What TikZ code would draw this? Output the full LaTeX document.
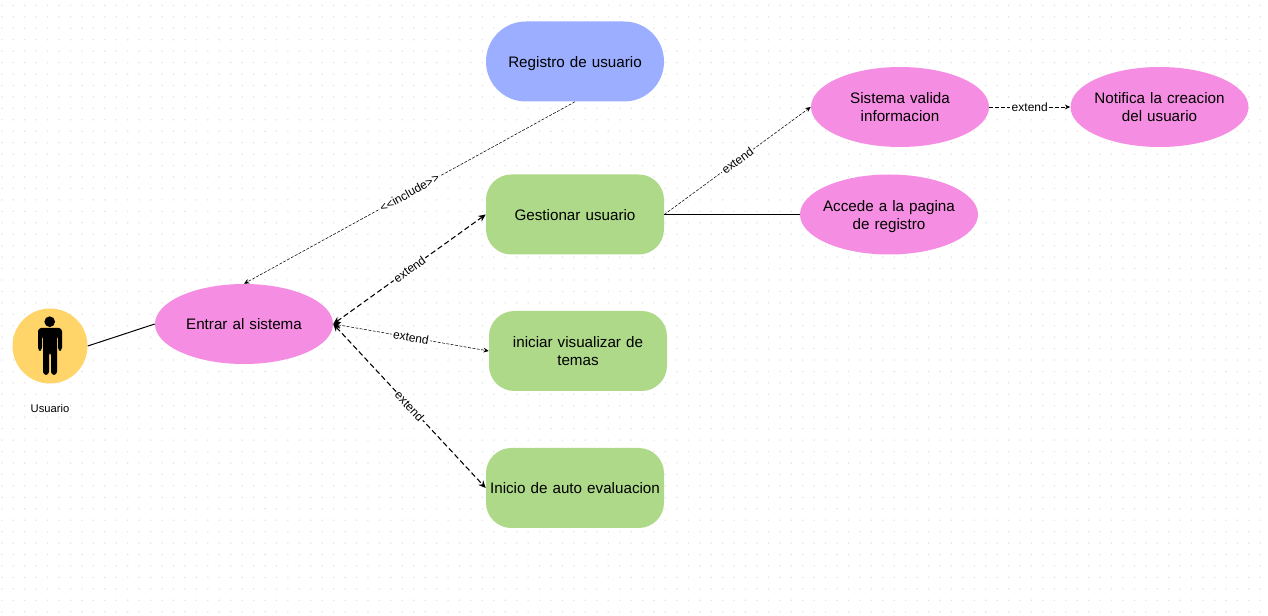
\documentclass[tikz,border=0pt]{standalone}
\usepackage{fontspec}
\setmainfont{Liberation Sans}
\usetikzlibrary{arrows.meta,shapes.geometric}
\definecolor{UseCasePink}{RGB}{245,142,226}
\definecolor{UseCaseGreen}{RGB}{174,217,137}
\definecolor{UseCaseBlue}{RGB}{155,174,255}
\definecolor{ActorYellow}{RGB}{255,212,105}
\definecolor{GridDot}{RGB}{226,226,226}
\newcommand{\casestrut}{\rule[-2.5pt]{0pt}{13.4pt}}
\begin{document}
\begin{tikzpicture}[
    x=0.75pt,y=-0.75pt,
    casetext/.style={inner sep=0pt,align=center,font=\fontsize{11.4}{13.5}\selectfont,
                     execute at begin node=\casestrut,execute at end node=\casestrut},
    casepink/.style={casetext,ellipse,fill=UseCasePink,minimum width=133.5pt,minimum height=60pt,
                     inner sep=-8pt,text width=104pt},
    casegreen/.style={casetext,rectangle,fill=UseCaseGreen,rounded corners=19pt,minimum width=133.5pt,
                      minimum height=60pt,text width=131pt},
    caseblue/.style={casegreen,fill=UseCaseBlue,rounded corners=29.9pt},
    lbl/.style={fill=white,inner sep=1pt,font=\fontsize{9}{10}\selectfont},
    dep/.style={-{Stealth[length=4pt,width=3.6pt]},black,dash pattern=on 2.2pt off 1.1pt,line width=0.4pt},
    depthick/.style={{Stealth[length=5.5pt,width=5pt]}-{Stealth[length=5.5pt,width=5pt]},black,
                     dash pattern=on 4pt off 2.2pt,line width=0.8pt},
    depthin/.style={{Stealth[length=5.5pt,width=5pt]}-{Stealth[length=4pt,width=3.6pt]},black,
                    dash pattern=on 2.2pt off 1.1pt,line width=0.4pt},
    assoc/.style={black,line width=0.75pt}
  ]
    \useasboundingbox (0,0) rectangle (1268,616);
    \fill[white] (0,0) rectangle (1268,616);
    \foreach \gx in {0,...,110}
      \foreach \gy in {0,...,53}
        \fill[GridDot] ({1.9+11.44*\gx},{5.4+11.44*\gy}) circle (0.6pt);
    \node[circle,fill=ActorYellow,minimum size=56.25pt,inner sep=0pt] (actor) at (50,346) {};
    \fill[black] (49.7,321.7) circle (4pt);
    \fill[black,rounded corners=2.5pt] (38,351) -- (38,328) -- (62,328) -- (62,351) -- (58,351)
      -- (58,335) -- (57,335) -- (57,375) -- (51,375) -- (51,352) -- (49,352) -- (49,375)
      -- (43,375) -- (43,335) -- (42,335) -- (42,351) -- cycle;
    \node[font=\fontsize{8.4}{10}\selectfont] (actorname) at (50,408) {Usuario};
    \node[casepink] (entrar) at (244,324) {Entrar al sistema};
    \node[caseblue] (registro) at (575,61.5) {Registro de usuario};
    \node[casegreen] (gestionar) at (575,214.5) {Gestionar usuario};
    \node[casegreen] (visualizar) at (578,351) {iniciar visualizar de\\temas};
    \node[casegreen] (evaluacion) at (575,488) {Inicio de auto evaluacion};
    \node[casepink] (valida) at (900,107) {Sistema valida\\informacion};
    \node[casepink] (notifica) at (1159.5,107) {Notifica la creacion\\del usuario};
    \node[casepink] (accede) at (889,214.5) {Accede a la pagina\\de registro};
    \draw[assoc] (actor.east)--(entrar.west);
    \draw[assoc] (gestionar.east)--(accede.west);
    \draw[dep] (registro.south)-- node[lbl,sloped,pos=0.5] {{<}{<}include{>}{>}} (entrar.north);
    \draw[depthick] (entrar.east)-- node[lbl,sloped,pos=0.5] {extend} (gestionar.west);
    \draw[depthin] (entrar.east)-- node[lbl,sloped,pos=0.5] {extend} (visualizar.west);
    \draw[depthick] (entrar.east)-- node[lbl,sloped,pos=0.5] {extend} (evaluacion.west);
    \draw[dep] (gestionar.east)-- node[lbl,sloped,pos=0.5] {extend} (valida.west);
    \draw[dep,line width=0.6pt,dash pattern=on 3pt off 1.5pt] (valida.east)-- node[lbl,pos=0.5] {extend} (notifica.west);
\end{tikzpicture}
\end{document}
